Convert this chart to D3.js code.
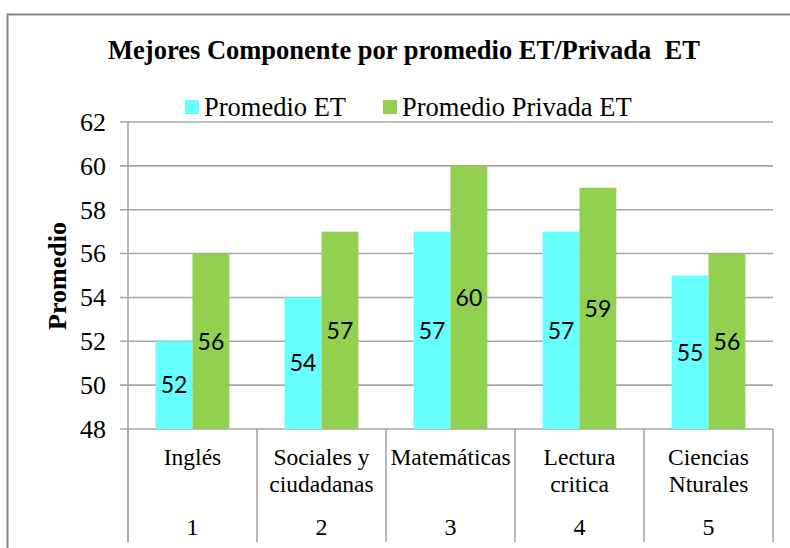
<!DOCTYPE html>
<html>
<head>
<meta charset="utf-8">
<script src="https://cdn.jsdelivr.net/npm/d3@7"></script>
<style>
  body { margin: 0; background: #fff; }
  svg text { white-space: pre; }
</style>
</head>
<body>
<div id="graph"></div>
<script>
const width = 790, height = 548;
const margin = {top: 122, right: 17, bottom: 119, left: 128};

// data
const categories = ["Inglés", "Sociales y\nciudadanas", "Matemáticas", "Lectura\ncritica", "Ciencias\nNturales"];
const catNumbers = ["1", "2", "3", "4", "5"];
const seriesNames = ["Promedio ET", "Promedio Privada ET"];
const promedioET = [52, 54, 57, 57, 55];
const promedioPrivadaET = [56, 57, 60, 59, 56];
const yTicks = [48, 50, 52, 54, 56, 58, 60, 62];
const colors = ["#66FFFF", "#92D050"];

const serif = "'Liberation Serif', 'Times New Roman', serif";

let svg = d3.select("#graph").
append("svg").
attr("width", width).
attr("height", height);

// outer frame
svg.append("rect").
attr("x", 7.5).attr("y", 14.5).
attr("width", 800).attr("height", 600).
attr("fill", "none").
attr("stroke", "#878787").
attr("stroke-width", 2);

const x0 = d3.scaleBand().
domain(d3.range(categories.length)).
range([margin.left, width - margin.right]);

const x1 = d3.scaleBand().
domain(seriesNames).
range([0, x0.bandwidth()]).
paddingInner(0).
paddingOuter(0.75);

const y = d3.scaleLinear().
domain([48, 62]).
range([height - margin.bottom, margin.top]);

// grid lines
svg.append("g").
selectAll("line").
data(yTicks).
enter().
append("line").
attr("x1", margin.left - 8).
attr("x2", width - margin.right).
attr("y1", d => y(d)).
attr("y2", d => y(d)).
attr("stroke", "#a6a6a6").
attr("stroke-width", 1.6);

// y axis line
svg.append("line").
attr("x1", margin.left).attr("x2", margin.left).
attr("y1", margin.top).attr("y2", 542).
attr("stroke", "#a6a6a6").
attr("stroke-width", 1.6);

// y tick labels
svg.append("g").
selectAll("text").
data(yTicks).
enter().
append("text").
attr("x", 106).
attr("y", d => y(d)).
attr("dy", "0.34em").
attr("text-anchor", "end").
style("font-family", serif).
style("font-size", "26px").
attr("fill", "#000").
text(d => d);

// category separators
svg.append("g").
selectAll("line").
data(d3.range(categories.length + 1)).
enter().
append("line").
attr("x1", i => i < categories.length ? x0(i) : x0(i - 1) + x0.bandwidth()).
attr("x2", i => i < categories.length ? x0(i) : x0(i - 1) + x0.bandwidth()).
attr("y1", y(48)).
attr("y2", 542).
attr("stroke", "#a6a6a6").
attr("stroke-width", 1.6);

// bars
const seriesData = [promedioET, promedioPrivadaET];
const groups = svg.append("g").
selectAll("g").
data(categories.map((c, i) => ({i: i, values: seriesData.map((s, k) => ({name: seriesNames[k], value: s[i], k: k}))}))).
enter().
append("g").
attr("transform", d => "translate(" + x0(d.i) + ",0)");

groups.selectAll("rect").
data(d => d.values).
enter().
append("rect").
attr("x", d => x1(d.name)).
attr("y", d => y(d.value)).
attr("width", x1.bandwidth()).
attr("height", d => y(48) - y(d.value)).
attr("fill", d => colors[d.k]);

groups.selectAll("text").
data(d => d.values).
enter().
append("text").
attr("x", d => x1(d.name) + x1.bandwidth() / 2).
attr("y", d => (y(d.value) + y(48)) / 2).
attr("dy", "0.36em").
attr("text-anchor", "middle").
style("font-family", "Lato, 'Open Sans', sans-serif").
style("font-size", "23px").
attr("fill", "#000").
text(d => d.value);

// category labels
const catLabels = svg.append("g").
selectAll("text").
data(categories).
enter().
append("text").
attr("x", (d, i) => x0(i) + x0.bandwidth() / 2).
attr("y", 465).
attr("text-anchor", "middle").
style("font-family", serif).
style("font-size", "23.5px").
attr("fill", "#000");

catLabels.selectAll("tspan").
data(d => d.split("\n")).
enter().
append("tspan").
attr("x", function () {return d3.select(this.parentNode).attr("x");}).
attr("dy", (d, i) => i === 0 ? 0 : 27).
text(d => d);

svg.append("g").
selectAll("text").
data(catNumbers).
enter().
append("text").
attr("x", (d, i) => x0(i) + x0.bandwidth() / 2).
attr("y", 535).
attr("text-anchor", "middle").
style("font-family", serif).
style("font-size", "24px").
attr("fill", "#000").
text(d => d);

// title
svg.append("text").
attr("x", 404).
attr("y", 59).
attr("text-anchor", "middle").
style("font-family", serif).
style("font-size", "26.5px").
style("font-weight", "bold").
attr("fill", "#000").
text("Mejores Componente por promedio ET/Privada  ET");

// y axis title
svg.append("text").
attr("transform", "translate(66," + 276 + ") rotate(-90)").
attr("text-anchor", "middle").
style("font-family", serif).
style("font-size", "26px").
style("font-weight", "bold").
attr("fill", "#000").
text("Promedio");

// legend
const legendX = [185, 383];
const legend = svg.append("g").
selectAll("g").
data(seriesNames).
enter().
append("g").
attr("transform", (d, i) => "translate(" + legendX[i] + ",100)");

legend.append("rect").
attr("width", 14).
attr("height", 14).
attr("fill", (d, i) => colors[i]);

legend.append("text").
attr("x", 19).
attr("y", 16).
style("font-family", serif).
style("font-size", "26.5px").
attr("fill", "#000").
text(d => d);
</script>
</body>
</html>
